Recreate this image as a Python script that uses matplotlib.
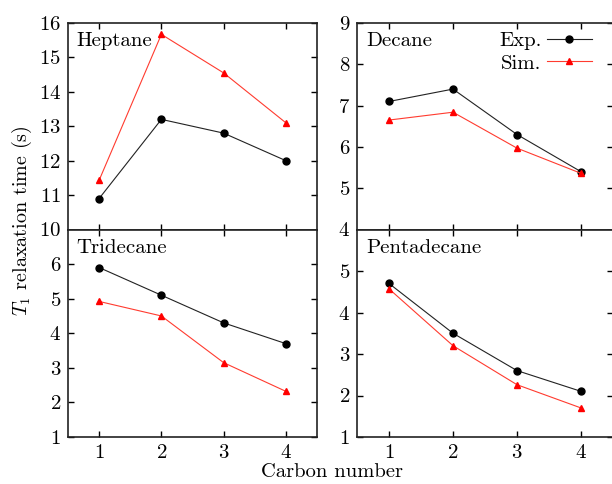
import matplotlib
matplotlib.use("Agg")
import matplotlib.pyplot as plt

plt.rcParams['font.family'] = 'serif'
plt.rcParams['font.serif'] = ['cmr10']
plt.rcParams['mathtext.fontset'] = 'cm'
plt.rcParams['axes.formatter.use_mathtext'] = True

carbon = [1, 2, 3, 4]
names = ["Heptane", "Decane", "Tridecane", "Pentadecane"]
exp_vals = {
    "Heptane": [10.9, 13.2, 12.8, 12.0],
    "Decane": [7.1, 7.4, 6.3, 5.4],
    "Tridecane": [5.9, 5.1, 4.3, 3.7],
    "Pentadecane": [4.7, 3.5, 2.6, 2.1],
}
sim_vals = {
    "Heptane": [11.43, 15.67, 14.55, 13.1],
    "Decane": [6.65, 6.84, 5.97, 5.36],
    "Tridecane": [4.92, 4.5, 3.15, 2.32],
    "Pentadecane": [4.57, 3.2, 2.26, 1.7],
}
ylims = {"Heptane": (10, 16), "Decane": (4, 9), "Tridecane": (1, 7), "Pentadecane": (1, 6)}
yticks = {"Heptane": [10, 11, 12, 13, 14, 15, 16], "Decane": [4, 5, 6, 7, 8, 9],
          "Tridecane": [1, 2, 3, 4, 5, 6], "Pentadecane": [1, 2, 3, 4, 5]}

W, H = 612, 484
fig = plt.figure(figsize=(W / 100, H / 100), dpi=100)

def rect(x0, x1, y0, y1):
    return [x0 / W, (H - y1) / H, (x1 - x0) / W, (y1 - y0) / H]

rects = {
    "Heptane": rect(68, 317, 23, 229.5),
    "Decane": rect(357, 613, 23, 229.5),
    "Tridecane": rect(68, 317, 229.5, 437),
    "Pentadecane": rect(357, 613, 229.5, 437),
}

FS = 15

for i, n in enumerate(names):
    ax = fig.add_axes(rects[n])
    le, = ax.plot(carbon, exp_vals[n], color='#222222', lw=0.8, marker='o', ms=5,
                  mfc='black', mec='black', label='Exp.')
    ls, = ax.plot(carbon, sim_vals[n], color='#ff3b2f', lw=0.8, marker='^', ms=4.8,
                  mfc='red', mec='red', label='Sim.')
    ax.set_xlim(0.5, 4.5)
    ax.set_ylim(*ylims[n])
    ax.set_xticks(carbon)
    ax.set_yticks(yticks[n])
    ax.tick_params(direction='in', top=True, right=True, length=4.5, width=1.0,
                   labelsize=FS, pad=5)
    if i < 2:
        ax.tick_params(labelbottom=False)
    for s in ax.spines.values():
        s.set_linewidth(1.2)
        s.set_color('#222222')
    ax.text(0.035, 0.955, n, transform=ax.transAxes, ha='left', va='top', fontsize=FS)
    if n == "Decane":
        ax.legend(handles=[le, ls], loc='upper right', frameon=False, markerfirst=False,
                  fontsize=FS, handlelength=2.2, handletextpad=0.25, labelspacing=0.2,
                  borderaxespad=0.0, bbox_to_anchor=(0.952, 1.0))

fig.text(22 / W, 1 - 221 / H, r'$T_1$ relaxation time (s)', rotation=90, ha='center',
         va='center', fontsize=14.5)
fig.text(332 / W, 1 - 472 / H, 'Carbon number', ha='center', va='center', fontsize=14.8)

fig.savefig("out.png", dpi=100)
